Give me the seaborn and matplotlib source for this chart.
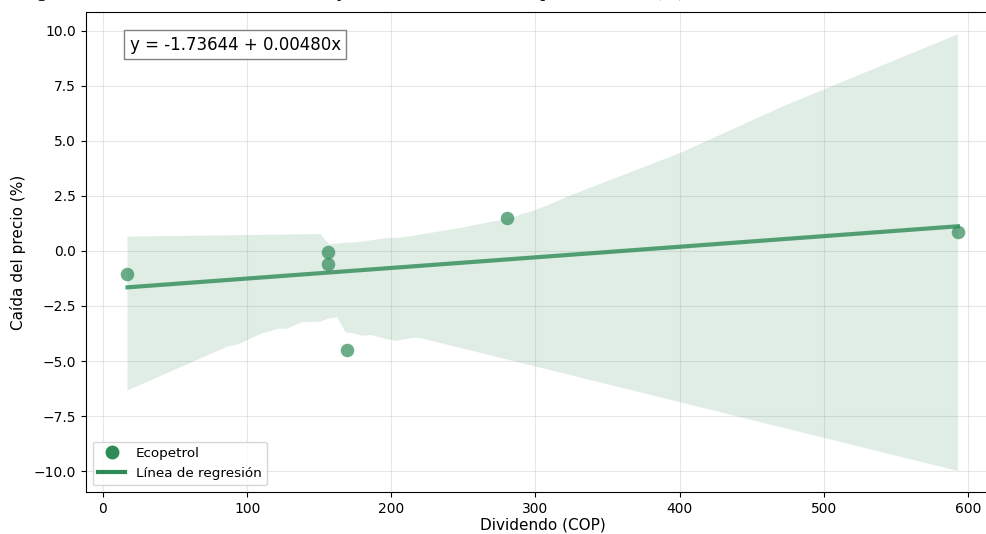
import matplotlib
matplotlib.use("Agg")
import matplotlib.pyplot as plt
import numpy as np
import pandas as pd
import seaborn as sns
from matplotlib.lines import Line2D
from matplotlib.ticker import MultipleLocator

# Dividend paid (COP) vs. price drop on ex-dividend date (%)
dividendo = [17, 156, 156, 169, 280, 593]
caida_precio = [-1.05, -0.03, -0.60, -4.52, 1.52, 0.88]
empresa = "Ecopetrol"
ecuacion = "y = -1.73644 + 0.00480x"
titulo = ("Figura 4. Relación entre el dividendo y la caída relativa "
          "en el precio diario (%)")

color = "seagreen"

df = pd.DataFrame({"dividendo": dividendo, "caida": caida_precio})

fig = plt.figure(figsize=(9.87, 5.34), dpi=100)
# right edge sits just past the canvas, as in the cropped original
ax = fig.add_axes([0.0871, 0.0787, 0.9255, 0.8989])

sns.regplot(
    data=df, x="dividendo", y="caida", ax=ax, color=color, seed=28,
    scatter_kws={"s": 95, "alpha": 0.7, "linewidths": 0},
    line_kws={"linewidth": 3, "alpha": 0.8},
)

ax.set_xlim(-11.8, 621.8)
ax.set_ylim(-10.95, 10.86)
ax.yaxis.set_major_locator(MultipleLocator(2.5))
ax.xaxis.set_major_locator(MultipleLocator(100))
ax.spines["right"].set_visible(False)

ax.grid(True, alpha=0.3)
ax.set_axisbelow(True)
ax.set_xlabel("Dividendo (COP)", fontsize=11, labelpad=1)
ax.set_ylabel("Caída del precio (%)", fontsize=11, labelpad=6)
ax.tick_params(labelsize=10)

ax.text(0.048, 0.95, ecuacion, transform=ax.transAxes, fontsize=12,
        va="top", bbox=dict(facecolor="white", edgecolor="gray", pad=4))

handles = [
    Line2D([], [], marker="o", linestyle="none", color=color, markersize=9),
    Line2D([], [], color=color, linewidth=3),
]
ax.legend(handles, [empresa, "Línea de regresión"], loc="lower left",
          fontsize=9.7)

# caption above the picture, only its lower edge is in frame
fig.text(0.02, 1 + 4 / 534, titulo, family="Liberation Serif",
         style="italic", fontsize=15, va="baseline")

fig.savefig("out.png", dpi=100)
